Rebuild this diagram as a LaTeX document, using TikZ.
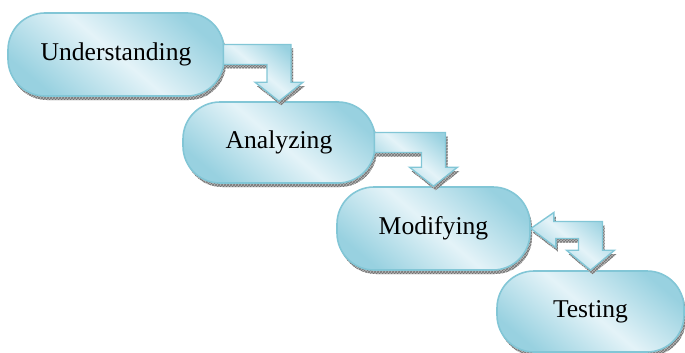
\documentclass[tikz,border=0pt]{standalone}
\usepackage{fontspec}
\setmainfont{Liberation Serif}
\usetikzlibrary{calc,shadows,patterns}
\definecolor{rim}{RGB}{130,198,214}
\definecolor{deep}{RGB}{152,209,224}
\definecolor{pale}{RGB}{228,243,248}
\tikzset{
  hatchshadow/.style={
    general shadow={shadow xshift=2pt,shadow yshift=-4pt,fill=gray!55},
    general shadow={shadow xshift=2pt,shadow yshift=-4pt,pattern=crosshatch,pattern color=gray!90!black}},
  stage/.style={rectangle, rounded corners=37pt, draw=rim, line width=1.6pt,
    top color=deep, bottom color=deep, middle color=pale, shading angle=-40,
    hatchshadow, font=\fontsize{25.6}{30}\selectfont, inner sep=0pt},
  blockarrow/.style={draw=rim, line width=1.4pt, line join=miter,
    top color=deep, bottom color=deep, middle color=pale, shading angle=-40,
    hatchshadow},
}
\begin{document}
\begin{tikzpicture}[x=1pt,y=-1pt]
\useasboundingbox (0,0) rectangle (685,353);

% process stages
\node[stage, minimum width=216pt, minimum height=83pt] (u) at (116,54.5) {Understanding};
\node[stage, minimum width=192pt, minimum height=81pt] (a) at (279,142.5) {Analyzing};
\node[stage, minimum width=193pt, minimum height=83pt] (m) at (433.5,228.5) {Modifying};
\node[stage, minimum width=187pt, minimum height=81pt] (t) at (590.5,311.5) {Testing};

% elbow arrow from Understanding down to Analyzing
\coordinate (c1) at (a.north |- u.east);
\draw[blockarrow] ($(u.east)+(-1.5,-10)$) -- ($(c1)+(12,-10)$) -- ($(a.north)+(12,-19)$)
  -- ($(a.north)+(24,-19)$) -- (a.north) -- ($(a.north)+(-24,-19)$)
  -- ($(a.north)+(-12,-19)$) -- ($(c1)+(-12,10)$) -- ($(u.east)+(-1.5,10)$) -- cycle;

% elbow arrow from Analyzing down to Modifying
\coordinate (c2) at (m.north |- a.east);
\draw[blockarrow] ($(a.east)+(-1.5,-10)$) -- ($(c2)+(12,-10)$) -- ($(m.north)+(12,-19)$)
  -- ($(m.north)+(24,-19)$) -- (m.north) -- ($(m.north)+(-24,-19)$)
  -- ($(m.north)+(-12,-19)$) -- ($(c2)+(-12,10)$) -- ($(a.east)+(-1.5,10)$) -- cycle;

% two-headed elbow arrow between Modifying and Testing
\coordinate (c3) at (t.north |- m.east);
\draw[blockarrow] (m.east) -- ($(m.east)+(23,-16)$) -- ($(m.east)+(23,-7)$)
  -- ($(c3)+(12,-7)$) -- ($(t.north)+(12,-20)$) -- ($(t.north)+(24,-20)$)
  -- (t.north) -- ($(t.north)+(-24,-20)$) -- ($(t.north)+(-12,-20)$)
  -- ($(c3)+(-12,10)$) -- ($(m.east)+(25,10)$) -- ($(m.east)+(25,19)$) -- cycle;
\end{tikzpicture}
\end{document}
